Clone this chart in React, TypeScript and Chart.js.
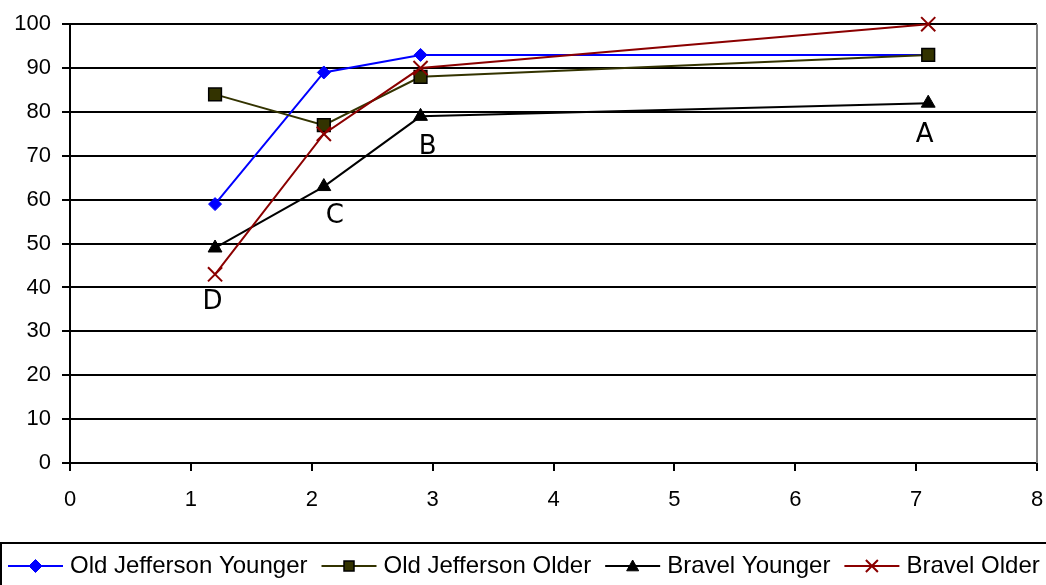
import React, { useEffect, useRef } from 'react';
import { Chart, registerables } from 'chart.js';

Chart.register(...registerables);

const seriesNames = ['Old Jefferson Younger', 'Old Jefferson Older', 'Bravel Younger', 'Bravel Older'];
const xValues = [1.2, 2.1, 2.9, 7.1];
const oldJeffersonYounger = [59, 89, 93, 93];
const oldJeffersonOlder = [84, 77, 88, 93];
const bravelYounger = [49, 63, 79, 82];
const bravelOlder = [43, 75, 90, 100];
const seriesValues = [oldJeffersonYounger, oldJeffersonOlder, bravelYounger, bravelOlder];

const annotationLabels = ['A', 'B', 'C', 'D'];
const annotationX = [7.07, 2.96, 2.19, 1.18];
const annotationY = [74.8, 72.0, 56.3, 36.6];

const xTickMin = 0;
const xTickMax = 8;
const yTickMin = 0;
const yTickMax = 100;

const lineColors = ['#0000ff', '#333300', '#000000', '#8b0000'];
const fillColors = ['#0000ff', '#333300', '#000000', '#8b0000'];
const markerBorders = ['#0000ff', '#000000', '#000000', '#8b0000'];
const markerStyles = ['rectRot', 'rect', 'triangle', 'crossRot'];
const markerRadii = [6.5, 9, 8, 10];
const markerBorderWidths = [1, 1.5, 1, 2];

const FONT = "'Liberation Sans', Arial, sans-serif";

function drawMarker(ctx: CanvasRenderingContext2D, i: number, x: number, y: number, s: number) {
  ctx.fillStyle = fillColors[i];
  ctx.strokeStyle = markerBorders[i];
  ctx.lineWidth = markerBorderWidths[i];
  ctx.beginPath();
  const st = markerStyles[i];
  if (st === 'rectRot') {
    ctx.moveTo(x - s, y);
    ctx.lineTo(x, y - s);
    ctx.lineTo(x + s, y);
    ctx.lineTo(x, y + s);
    ctx.closePath();
    ctx.fill();
    ctx.stroke();
  } else if (st === 'rect') {
    ctx.rect(x - s, y - s, 2 * s, 2 * s);
    ctx.fill();
    ctx.stroke();
  } else if (st === 'triangle') {
    ctx.moveTo(x, y - s);
    ctx.lineTo(x + s, y + s * 0.8);
    ctx.lineTo(x - s, y + s * 0.8);
    ctx.closePath();
    ctx.fill();
    ctx.stroke();
  } else {
    ctx.moveTo(x - s, y - s);
    ctx.lineTo(x + s, y + s);
    ctx.moveTo(x + s, y - s);
    ctx.lineTo(x - s, y + s);
    ctx.stroke();
  }
}

export default function App() {
  const ref = useRef<HTMLCanvasElement | null>(null);

  useEffect(() => {
    if (!ref.current) return;

    const decor = {
      id: 'decor',
      afterDraw(chart: any) {
        const ctx = chart.ctx as CanvasRenderingContext2D;
        const area = chart.chartArea;
        ctx.save();
        // right border of the plot area
        ctx.strokeStyle = '#808080';
        ctx.lineWidth = 2;
        ctx.beginPath();
        ctx.moveTo(area.right, area.top);
        ctx.lineTo(area.right, area.bottom);
        ctx.stroke();

        // annotations
        const xs = chart.scales.x;
        const ys = chart.scales.y;
        ctx.fillStyle = '#000000';
        ctx.font = "26px 'DejaVu Sans', sans-serif";
        ctx.textAlign = 'center';
        ctx.textBaseline = 'middle';
        annotationLabels.forEach((t, k) => {
          ctx.fillText(t, xs.getPixelForValue(annotationX[k]), ys.getPixelForValue(annotationY[k]));
        });

        // legend (in the space reserved by the bottom layout padding)
        const top = area.bottom + 80;
        ctx.strokeStyle = '#000000';
        ctx.lineWidth = 2;
        ctx.strokeRect(1, top, chart.width + 10, 80);
        const cy = top + 23;
        let x = 8;
        ctx.font = '24px ' + FONT;
        ctx.textAlign = 'left';
        ctx.textBaseline = 'middle';
        seriesNames.forEach((name, i) => {
          ctx.strokeStyle = lineColors[i];
          ctx.lineWidth = 2;
          ctx.beginPath();
          ctx.moveTo(x, cy);
          ctx.lineTo(x + 55, cy);
          ctx.stroke();
          const sizes = [6.5, 5, 6, 6];
          drawMarker(ctx, i, x + 27.5, cy, sizes[i]);
          ctx.fillStyle = '#000000';
          ctx.font = '24px ' + FONT;
          ctx.fillText(name, x + 62, cy);
          x += 62 + ctx.measureText(name).width + 14;
        });
        ctx.restore();
      },
    };

    const chart = new Chart(ref.current, {
      type: 'line',
      data: {
        datasets: seriesNames.map((name, i) => ({
          label: name,
          data: xValues.map((x, k) => ({ x, y: seriesValues[i][k] })),
          borderColor: lineColors[i],
          backgroundColor: fillColors[i],
          borderWidth: 2,
          pointStyle: markerStyles[i] as any,
          pointRadius: markerRadii[i],
          pointBorderColor: markerBorders[i],
          pointBackgroundColor: fillColors[i],
          pointBorderWidth: markerBorderWidths[i],
          tension: 0,
          fill: false,
          clip: false as any,
          order: 4 - i,
        })),
      },
      options: {
        animation: false,
        responsive: true,
        maintainAspectRatio: false,
        layout: { padding: { top: 24, right: 10, left: 0, bottom: 48 } },
        plugins: {
          tooltip: { enabled: false },
          legend: { display: false },
        },
        scales: {
          x: {
            type: 'linear',
            min: xTickMin,
            max: xTickMax,
            afterFit: (s: any) => {
              s.height = 74;
              s.paddingRight = 0;
              s.paddingLeft = 0;
            },
            ticks: {
              stepSize: 1,
              color: '#000000',
              padding: 16,
              font: { family: FONT, size: 22 },
            },
            grid: {
              drawOnChartArea: false,
              drawTicks: true,
              tickLength: 8,
              color: '#000000',
              lineWidth: 2,
            },
            border: { color: '#000000', width: 2 },
          },
          y: {
            type: 'linear',
            min: yTickMin,
            max: yTickMax,
            afterFit: (s: any) => {
              s.width = 70;
            },
            ticks: {
              stepSize: 10,
              color: '#000000',
              padding: 11,
              font: { family: FONT, size: 22 },
            },
            grid: {
              color: '#000000',
              lineWidth: 2,
              tickLength: 8,
            },
            border: { color: '#000000', width: 2 },
          },
        },
      },
      plugins: [decor],
    });
    return () => chart.destroy();
  }, []);

  return (
    <div style={{ position: 'absolute', left: 0, top: 0, width: 1046, height: 585, overflow: 'hidden' }}>
      <div style={{ position: 'relative', width: 1049, height: 585 }}>
        <canvas ref={ref} />
      </div>
    </div>
  );
}
